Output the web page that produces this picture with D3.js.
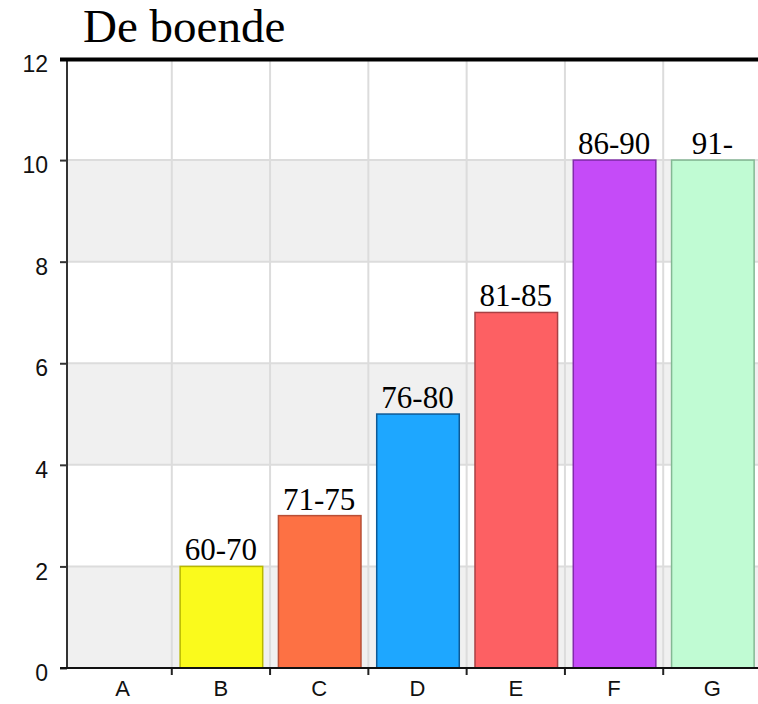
<!DOCTYPE html>
<html>
<head>
<meta charset="utf-8">
<script src="https://cdn.jsdelivr.net/npm/d3@7"></script>
<style>
  body { margin: 0; background: #fff; }
</style>
</head>
<body>
<div id="chart"></div>
<script>
var categories = ['A', 'B', 'C', 'D', 'E', 'F', 'G'];
var values = [0, 2, 3, 5, 7, 10, 10];
var barLabels = ['', '60-70', '71-75', '76-80', '81-85', '86-90', '91-'];
var yTicks = [0, 2, 4, 6, 8, 10, 12];

var fills = ['#cccccc', '#fafa1c', '#fd7144', '#1ea7ff', '#fd6063', '#c54bf8', '#c0fbd3'];
var strokes = ['#999999', '#b8b800', '#b84f36', '#0e5a96', '#a84044', '#822aac', '#84b894'];

var width = 758, height = 704;
var left = 67, right = 758, bottom = 668;

var svg = d3.select('#chart').append('svg')
  .attr('width', width)
  .attr('height', height);

var x = d3.scaleBand()
  .domain(categories)
  .range([73.5, 761.5]);

var y = d3.scaleLinear()
  .domain([0, 12])
  .range([bottom, 58.5]);

var fill = d3.scaleOrdinal().domain(categories).range(fills);
var stroke = d3.scaleOrdinal().domain(categories).range(strokes);

var data = categories.map(function(c, i) {
  return { name: c, value: values[i], label: barLabels[i] };
});

// alternating background bands
var bands = d3.range(0, yTicks.length - 1, 2).map(function(i) {
  return [yTicks[i], yTicks[i + 1]];
});
svg.append('g').selectAll('rect')
  .data(bands)
  .enter().append('rect')
  .attr('x', left)
  .attr('width', right - left)
  .attr('y', function(d) { return y(d[1]); })
  .attr('height', function(d) { return y(d[0]) - y(d[1]); })
  .style('fill', '#f0f0f0');

// horizontal grid
svg.append('g').selectAll('line')
  .data(yTicks.slice(1, -1))
  .enter().append('line')
  .attr('x1', left).attr('x2', right)
  .attr('y1', function(d) { return y(d); })
  .attr('y2', function(d) { return y(d); })
  .style('stroke', '#dcdcdc')
  .style('stroke-width', 2);

// vertical grid at band boundaries
svg.append('g').selectAll('line')
  .data(categories.slice(1))
  .enter().append('line')
  .attr('x1', function(d) { return x(d); })
  .attr('x2', function(d) { return x(d); })
  .attr('y1', y(12)).attr('y2', bottom)
  .style('stroke', '#dcdcdc')
  .style('stroke-width', 2);

// bars
var bw = x.bandwidth();
svg.append('g').selectAll('rect')
  .data(data.filter(function(d) { return d.value > 0; }))
  .enter().append('rect')
  .attr('x', function(d) { return x(d.name) + bw * 0.085; })
  .attr('width', bw * 0.84)
  .attr('y', function(d) { return y(d.value); })
  .attr('height', function(d) { return y(0) - y(d.value); })
  .style('fill', function(d) { return fill(d.name); })
  .style('stroke', function(d) { return stroke(d.name); })
  .style('stroke-width', 1.5);

// bar labels
svg.append('g').selectAll('text')
  .data(data.filter(function(d) { return d.label; }))
  .enter().append('text')
  .attr('x', function(d) { return x(d.name) + bw / 2; })
  .attr('y', function(d) { return y(d.value) - 6; })
  .style('text-anchor', 'middle')
  .style('font-family', '"Liberation Serif", "Times New Roman", serif')
  .style('font-size', '31px')
  .style('fill', '#000')
  .text(function(d) { return d.label; });

// y axis
var yAxis = d3.axisLeft(y)
  .tickValues(yTicks)
  .tickSize(7)
  .tickPadding(12);
var gy = svg.append('g')
  .attr('transform', 'translate(' + left + ',0)')
  .call(yAxis);
gy.select('.domain').remove();
gy.selectAll('.tick line').style('stroke', '#333').style('stroke-width', 2);
gy.selectAll('.tick text')
  .attr('dy', '0.55em')
  .style('font-family', '"Liberation Sans", Arial, sans-serif')
  .style('font-size', '23px')
  .style('fill', '#111');

// x axis
var xAxis = d3.axisBottom(x).tickSize(0).tickPadding(15);
var gx = svg.append('g')
  .attr('transform', 'translate(0,' + bottom + ')')
  .call(xAxis);
gx.select('.domain').remove();
gx.selectAll('.tick text')
  .attr('dy', '0.6em')
  .style('font-family', '"Liberation Sans", Arial, sans-serif')
  .style('font-size', '22px')
  .style('fill', '#111');

// x tick marks at band boundaries
svg.append('g').selectAll('line')
  .data(categories.slice(1))
  .enter().append('line')
  .attr('x1', function(d) { return x(d); })
  .attr('x2', function(d) { return x(d); })
  .attr('y1', bottom).attr('y2', bottom + 7)
  .style('stroke', '#222')
  .style('stroke-width', 2);

// axis lines
svg.append('line')
  .attr('x1', left).attr('x2', left)
  .attr('y1', y(12)).attr('y2', bottom)
  .style('stroke', '#333').style('stroke-width', 2);
svg.append('line')
  .attr('x1', left - 7).attr('x2', right)
  .attr('y1', bottom).attr('y2', bottom)
  .style('stroke', '#111').style('stroke-width', 2);
svg.append('line')
  .attr('x1', 60).attr('x2', right)
  .attr('y1', y(12) + 1).attr('y2', y(12) + 1)
  .style('stroke', '#000').style('stroke-width', 4);

// title
svg.append('text')
  .attr('x', 83)
  .attr('y', 42)
  .style('font-family', '"Liberation Serif", "Times New Roman", serif')
  .style('font-size', '47px')
  .style('fill', '#000')
  .text('De boende');
</script>
</body>
</html>
